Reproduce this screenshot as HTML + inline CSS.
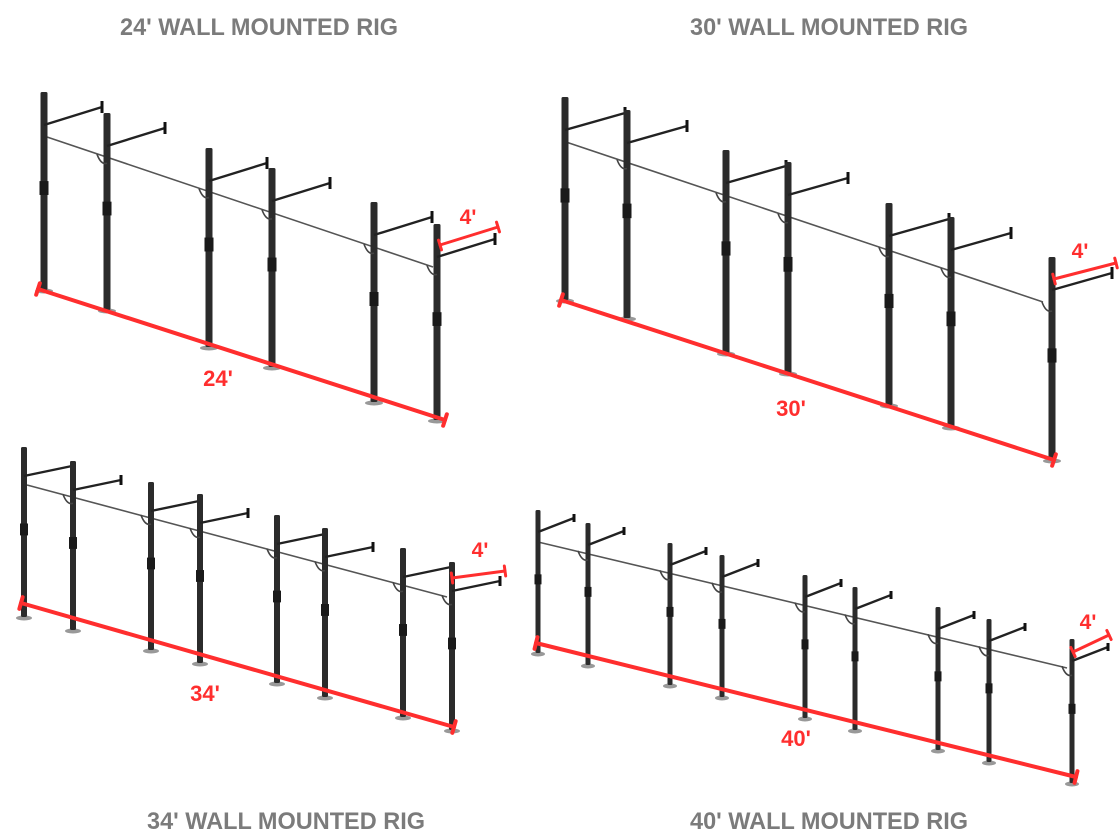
<!DOCTYPE html>
<html><head><meta charset="utf-8"><style>
html,body{margin:0;padding:0;background:#fff;width:1120px;height:840px;overflow:hidden}
svg{display:block}
</style></head><body>
<svg id="s" width="1120" height="840" viewBox="0 0 1120 840" xmlns="http://www.w3.org/2000/svg">
<g font-family="Liberation Sans, sans-serif" font-weight="bold">
<text x="120" y="35" font-size="24" fill="#7b7b7b" textLength="278" lengthAdjust="spacingAndGlyphs">24' WALL MOUNTED RIG</text>
<text x="690" y="35" font-size="24" fill="#7b7b7b" textLength="278" lengthAdjust="spacingAndGlyphs">30' WALL MOUNTED RIG</text>
<text x="147" y="829" font-size="24" fill="#7b7b7b" textLength="278" lengthAdjust="spacingAndGlyphs">34' WALL MOUNTED RIG</text>
<text x="690" y="829" font-size="24" fill="#7b7b7b" textLength="278" lengthAdjust="spacingAndGlyphs">40' WALL MOUNTED RIG</text>
</g>
<g id="rigs"></g>
</svg>
<script>
var P=[
{posts:[[44,92,290],[107,113,310],[209,148,347],[272,168,367],[374,202,402],[437,224,420]],arm:[33,58,-18,6],bar:[47,137,433,267],red:[38,289,445,420],four:[440,245,498,227],fl:[468,224],lab:"24'",ll:[218,386],pw:7},
{posts:[[565,97,300],[627,110,318],[726,150,353],[788,162,373],[889,203,405],[951,217,427],[1052,257,460]],arm:[33,60,-17,6],bar:[566,142,1043,302],red:[561,300,1054,460],four:[1054,279,1116,263],fl:[1080,258],lab:"30'",ll:[791,416],pw:7},
{posts:[[24,447,617],[73,461,630],[151,482,650],[200,494,663],[277,515,683],[325,528,697],[403,548,717],[452,562,730]],arm:[29,48,-10,5],bar:[27,485,447,597],red:[21,603,454,727],four:[452,578,505,571],fl:[480,557],lab:"34'",ll:[205,701],pw:6},
{posts:[[538,510,653],[588,523,665],[670,543,685],[722,555,697],[805,575,718],[855,587,730],[938,607,750],[989,619,762],[1072,639,783]],arm:[22,36,-14,4],bar:[538,542,1067,668],red:[536,643,1076,777],four:[1073,652,1109,635],fl:[1088,629],lab:"40'",ll:[796,746],pw:5}
];
var h="";
function perpTicks(x1,y1,x2,y2,L){var dx=x2-x1,dy=y2-y1,d=Math.hypot(dx,dy),nx=-dy/d*L,ny=dx/d*L;
return '<line x1="'+(x1-nx)+'" y1="'+(y1-ny)+'" x2="'+(x1+nx)+'" y2="'+(y1+ny)+'"/><line x1="'+(x2-nx)+'" y1="'+(y2-ny)+'" x2="'+(x2+nx)+'" y2="'+(y2+ny)+'"/>';}
P.forEach(function(p){
 var b=p.bar;
 h+='<line x1="'+b[0]+'" y1="'+b[1]+'" x2="'+b[2]+'" y2="'+b[3]+'" stroke="#555" stroke-width="1.6"/>';
 p.posts.forEach(function(q,i){
  var x=q[0],t=q[1],bt=q[2],w=p.pw,a=p.arm;
  h+='<ellipse cx="'+x+'" cy="'+(bt+1)+'" rx="'+(w+2)+'" ry="2.5" fill="#999"/>';
  h+='<rect x="'+(x-w/2)+'" y="'+t+'" width="'+w+'" height="'+(bt-t)+'" rx="1.5" fill="#2b2b2b"/>';
  h+='<rect x="'+(x-w/2-1)+'" y="'+(t+(bt-t)*0.45)+'" width="'+(w+2)+'" height="'+((bt-t)*0.07)+'" fill="#1a1a1a"/>';
  var sy=t+a[0],ex=x+a[1],ey=sy+a[2];
  h+='<line x1="'+x+'" y1="'+sy+'" x2="'+ex+'" y2="'+ey+'" stroke="#222" stroke-width="2.4"/>';
  h+='<line x1="'+ex+'" y1="'+(ey-a[3])+'" x2="'+ex+'" y2="'+(ey+a[3])+'" stroke="#111" stroke-width="3"/>';
  if(i>0){var tt=(x-b[0])/(b[2]-b[0]),yy=b[1]+tt*(b[3]-b[1]);
   h+='<path d="M'+(x-10)+' '+(yy-3)+' Q'+(x-6)+' '+(yy+8)+' '+x+' '+(yy+6)+'" fill="none" stroke="#444" stroke-width="1.6"/>';}
 });
 var r=p.red,f=p.four;
 h+='<g stroke="#ff2e2e" stroke-width="4" stroke-linecap="round"><line x1="'+r[0]+'" y1="'+r[1]+'" x2="'+r[2]+'" y2="'+r[3]+'"/>'+perpTicks(r[0],r[1],r[2],r[3],6)+'</g>';
 h+='<g stroke="#ff2e2e" stroke-width="3" stroke-linecap="round"><line x1="'+f[0]+'" y1="'+f[1]+'" x2="'+f[2]+'" y2="'+f[3]+'"/>'+perpTicks(f[0],f[1],f[2],f[3],5)+'</g>';
 h+='<text x="'+p.fl[0]+'" y="'+p.fl[1]+'" font-family="Liberation Sans, sans-serif" font-weight="bold" font-size="21" fill="#ff2e2e" text-anchor="middle">4\'</text>';
 h+='<text x="'+p.ll[0]+'" y="'+p.ll[1]+'" font-family="Liberation Sans, sans-serif" font-weight="bold" font-size="22" fill="#ff2e2e" text-anchor="middle">'+p.lab+'</text>';
});
document.getElementById("rigs").innerHTML=h;
</script>
</body></html>
